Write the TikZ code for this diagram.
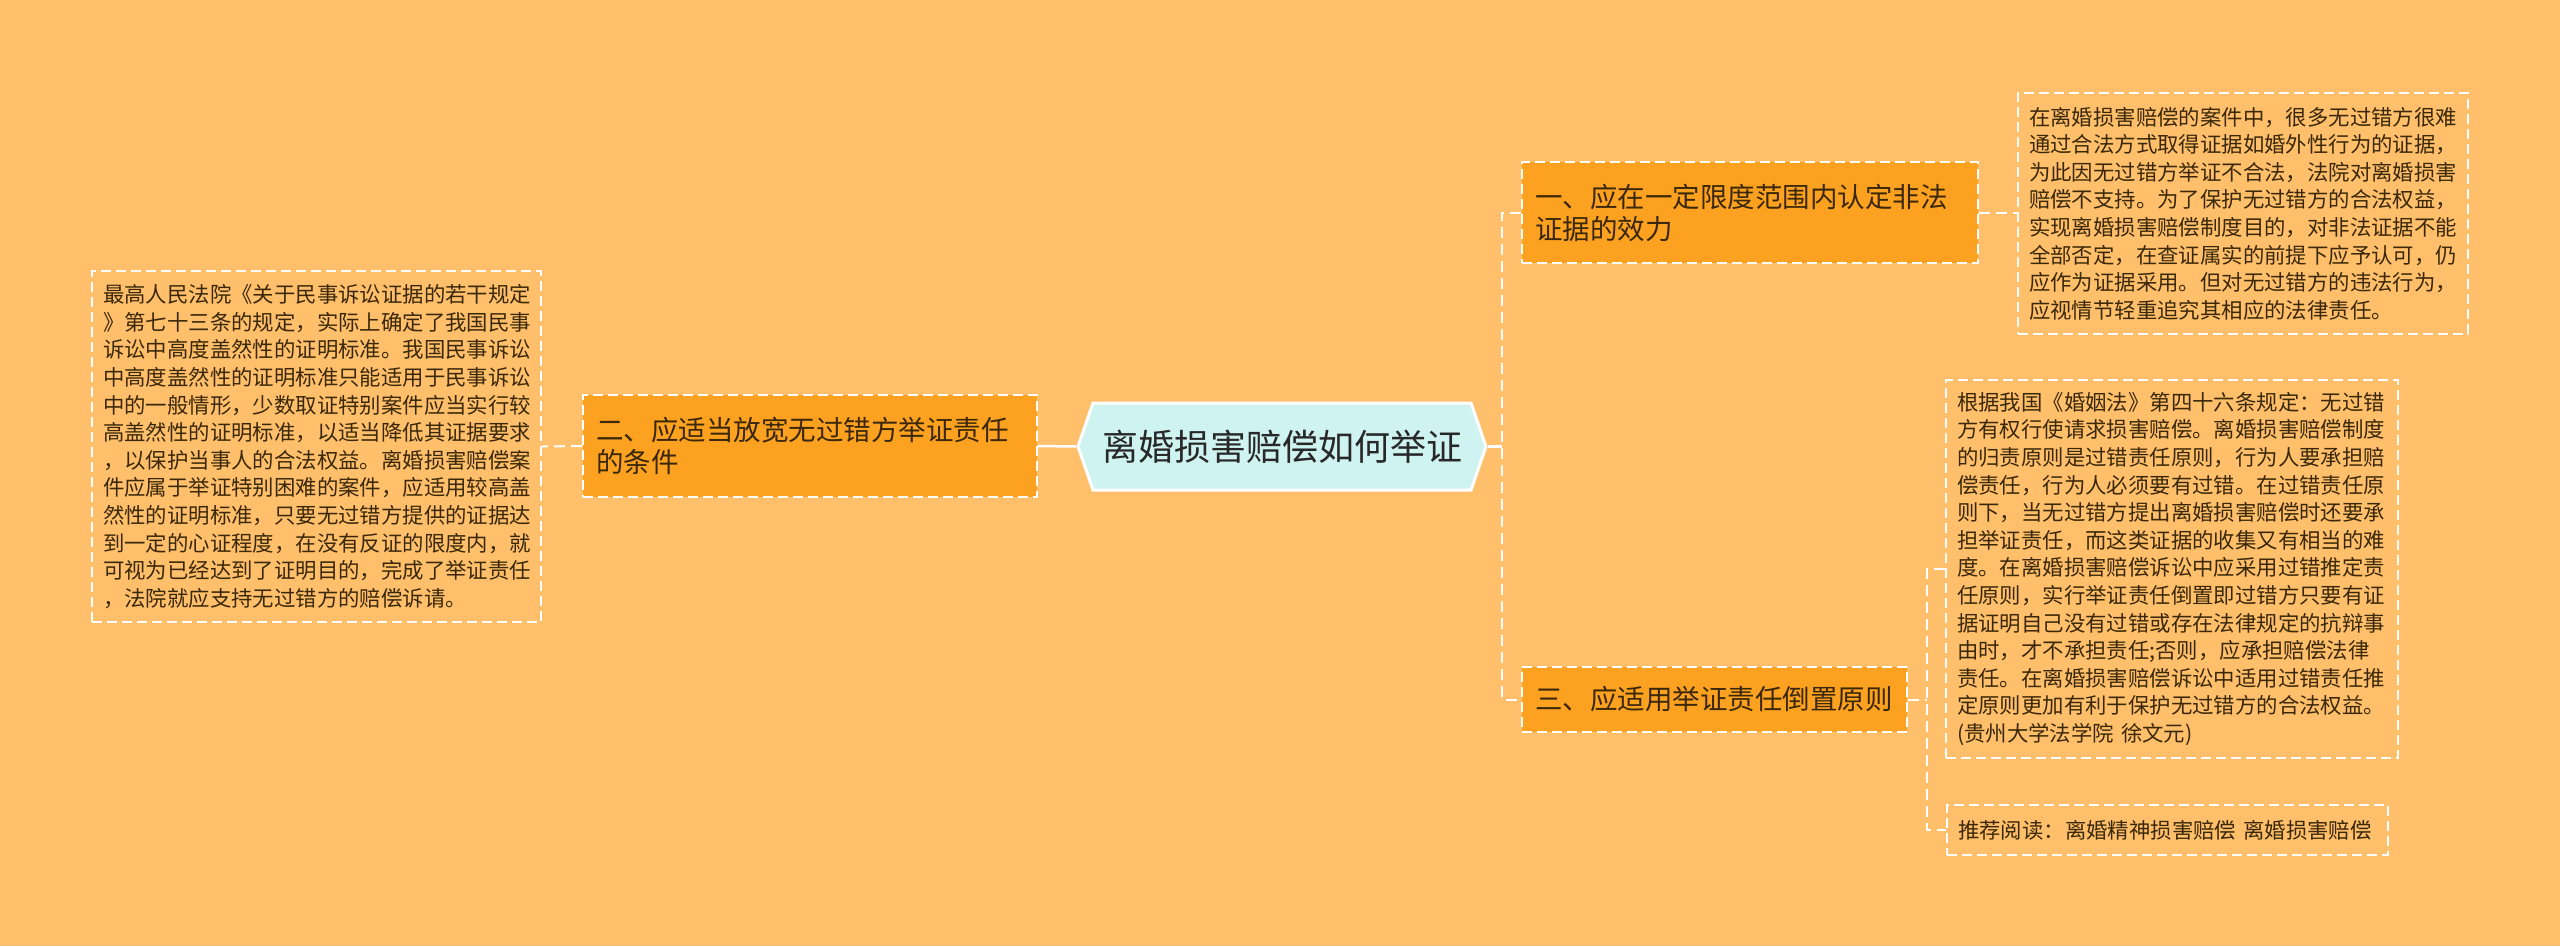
\documentclass[tikz,border=0pt]{standalone}
\usepackage{fontspec}
\setmainfont{Noto Sans CJK SC}
\usetikzlibrary{shapes.symbols}
\definecolor{bgorange}{RGB}{255,191,107}
\definecolor{branchfill}{RGB}{253,161,33}
\definecolor{rootfill}{RGB}{207,243,241}
\definecolor{leaftext}{RGB}{58,40,8}
\definecolor{roottext}{RGB}{40,40,40}

\begin{document}
\begin{tikzpicture}[x=1pt,y=-1pt,
    root/.style={signal, signal to=west and east, signal pointer angle=142,
        draw=white, line width=3pt, fill=rootfill, text=roottext,
        minimum width=408pt, minimum height=87pt, inner sep=0pt,
        font=\fontsize{36}{40}\selectfont},
    branch/.style={draw=white, line width=1.8pt, dash pattern=on 10pt off 5pt,
        fill=branchfill, text=leaftext, align=left, inner xsep=13pt, inner ysep=0pt,
        font=\fontsize{27.5}{32}\selectfont},
    leaf/.style={draw=white, line width=1.8pt, dash pattern=on 10pt off 5pt,
        text=leaftext, align=left, inner xsep=11pt, inner ysep=0pt,
        font=\fontsize{21.4}{27.6}\selectfont},
    link/.style={white, line width=2.5pt},
    dlink/.style={white, line width=2pt, dash pattern=on 11pt off 6pt}]

% 背景
\fill[bgorange] (0,0) rectangle (2560,946);
\useasboundingbox (0,0) rectangle (2560,946);

% 中心主题
\node[root] (root) at (1282,446.5) {离婚损害赔偿如何举证};

% 左侧分支
\node[branch, text width=428pt, minimum height=102pt] (b2) at (810,446)
    {二、应适当放宽无过错方举证责任\\的条件};
\node[leaf, text width=427pt, minimum height=351pt] (leafL) at (316.5,446.5)
    {最高人民法院《关于民事诉讼证据的若干规定\\
    》第七十三条的规定，实际上确定了我国民事\\
    诉讼中高度盖然性的证明标准。我国民事诉讼\\
    中高度盖然性的证明标准只能适用于民事诉讼\\
    中的一般情形，少数取证特别案件应当实行较\\
    高盖然性的证明标准，以适当降低其证据要求\\
    ，以保护当事人的合法权益。离婚损害赔偿案\\
    件应属于举证特别困难的案件，应适用较高盖\\
    然性的证明标准，只要无过错方提供的证据达\\
    到一定的心证程度，在没有反证的限度内，就\\
    可视为已经达到了证明目的，完成了举证责任\\
    ，法院就应支持无过错方的赔偿诉请。};

% 右侧分支一
\node[branch, text width=430pt, minimum height=101pt] (b1) at (1750,212.5)
    {一、应在一定限度范围内认定非法\\证据的效力};
\node[leaf, text width=428pt, minimum height=241pt] (leaf1) at (2243,213.5)
    {在离婚损害赔偿的案件中，很多无过错方很难\\
    通过合法方式取得证据如婚外性行为的证据，\\
    为此因无过错方举证不合法，法院对离婚损害\\
    赔偿不支持。为了保护无过错方的合法权益，\\
    实现离婚损害赔偿制度目的，对非法证据不能\\
    全部否定，在查证属实的前提下应予认可，仍\\
    应作为证据采用。但对无过错方的违法行为，\\
    应视情节轻重追究其相应的法律责任。};

% 右侧分支三
\node[branch, text width=359pt, minimum height=65pt] (b3) at (1714.5,699.5)
    {三、应适用举证责任倒置原则};
\node[leaf, text width=430pt, minimum height=378pt] (leaf3a) at (2172,569)
    {根据我国《婚姻法》第四十六条规定：无过错\\
    方有权行使请求损害赔偿。离婚损害赔偿制度\\
    的归责原则是过错责任原则，行为人要承担赔\\
    偿责任，行为人必须要有过错。在过错责任原\\
    则下，当无过错方提出离婚损害赔偿时还要承\\
    担举证责任，而这类证据的收集又有相当的难\\
    度。在离婚损害赔偿诉讼中应采用过错推定责\\
    任原则，实行举证责任倒置即过错方只要有证\\
    据证明自己没有过错或存在法律规定的抗辩事\\
    由时，才不承担责任;否则，应承担赔偿法律\\
    责任。在离婚损害赔偿诉讼中适用过错责任推\\
    定原则更加有利于保护无过错方的合法权益。\\
    (贵州大学法学院 徐文元)};
\node[leaf, text width=419pt, minimum height=50pt] (leaf3b) at (2167.5,830)
    {推荐阅读：离婚精神损害赔偿 离婚损害赔偿};

% 连线
\coordinate (jr) at (1502,446.5);
\coordinate (jr3) at (1927,699.5);
\draw[link] (root.west) -- (b2.east);
\draw[dlink] (b2.west) -- (leafL.east);
\draw[link] (root.east) -- (jr);
\draw[dlink] (b1.west) -| (jr) |- (b3.west);
\draw[dlink] (b1.east) -- (b1.east -| leaf1.west);
\draw[dlink] (b3.east) -- (jr3);
\draw[dlink] (leaf3a.west) -| (jr3) |- (leaf3b.west);

\end{tikzpicture}
\end{document}
